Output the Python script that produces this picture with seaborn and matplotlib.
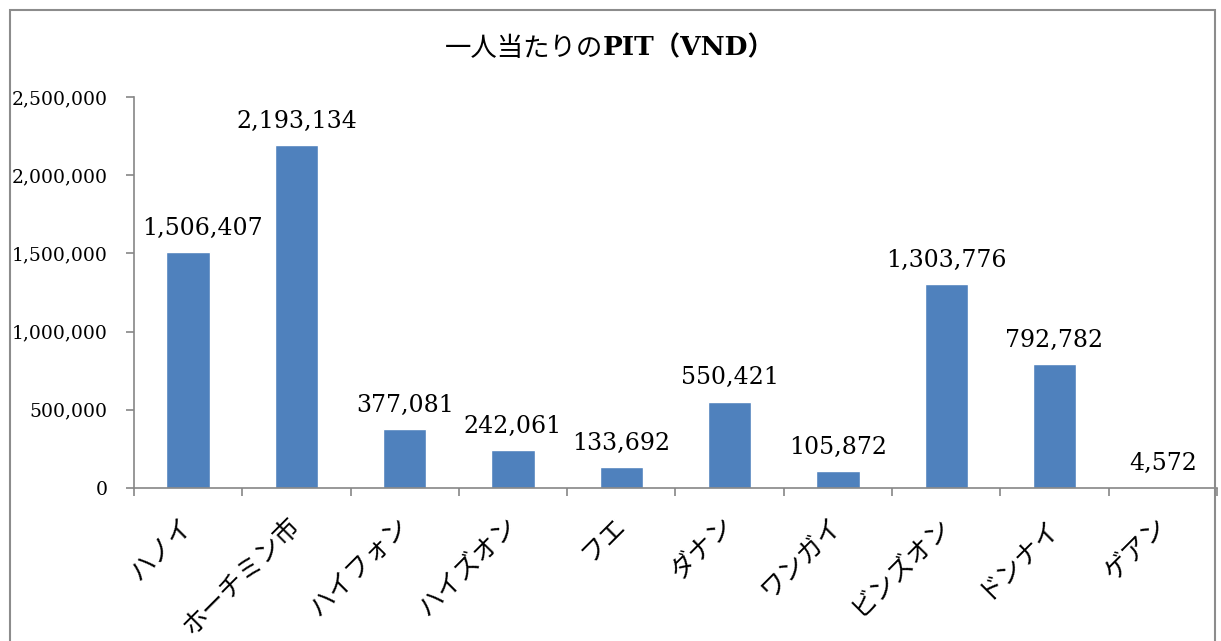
import matplotlib
matplotlib.use("Agg")
import matplotlib.pyplot as plt
import seaborn as sns
import pandas as pd
from matplotlib.patches import Rectangle
from matplotlib.ticker import FuncFormatter

cities = ['ハノイ', 'ホーチミン市', 'ハイフォン', 'ハイズオン', 'フエ', 'ダナン',
          'ワンガイ', 'ビンズオン', 'ドンナイ', 'ゲアン']
pit_per_capita = [1506407, 2193134, 377081, 242061, 133692, 550421,
                  105872, 1303776, 792782, 4572]
y_ticks = [0, 500000, 1000000, 1500000, 2000000, 2500000]

df = pd.DataFrame({'city': cities, 'pit': pit_per_capita})

sns.set_theme(style='white')
plt.rcParams['font.family'] = ['DejaVu Serif', 'Noto Sans CJK JP', 'DejaVu Sans']
plt.rcParams['text.color'] = 'black'
plt.rcParams['xtick.labelcolor'] = 'black'
plt.rcParams['ytick.labelcolor'] = 'black'

fig = plt.figure(figsize=(12.21, 6.41), dpi=100)
ax = fig.add_axes([0.1097, 0.2387, 0.887, 0.61])

sns.barplot(data=df, x='city', y='pit', color='#4F81BD', saturation=1,
            width=0.4, ax=ax)

# 枠線
fig.patches.append(Rectangle((10 / 1221, -0.05), 1205 / 1221, 1.05 - 10 / 641,
                             transform=fig.transFigure, fill=False,
                             edgecolor='#8c8c8c', linewidth=1.5))

ax.set_xlim(-0.5, len(cities) - 0.5)
ax.set_ylim(0, 2500000)
ax.set_yticks(y_ticks)
ax.yaxis.set_major_formatter(FuncFormatter(lambda v, p: f'{v:,.0f}'))
ax.set_xlabel('')
ax.set_ylabel('')

# 目盛り
ax.set_xticks([i - 0.5 for i in range(len(cities) + 1)], minor=True)
ax.tick_params(axis='x', which='major', bottom=True, length=0, pad=24,
               labelsize=18.5, labelcolor='black')
ax.tick_params(axis='x', which='minor', bottom=True, length=6, width=1.2,
               color='#868686', direction='out')
ax.tick_params(axis='y', left=True, length=6, width=1.2, color='#868686',
               direction='out', labelsize=13.5, pad=13, labelcolor='black')
for lab in ax.get_xticklabels():
    lab.set_rotation(45)
    lab.set_ha('right')
    lab.set_rotation_mode('anchor')
    lab.set_va('center')

for s in ['top', 'right']:
    ax.spines[s].set_visible(False)
for s in ['left', 'bottom']:
    ax.spines[s].set_color('#868686')
    ax.spines[s].set_linewidth(1.2)

anns = ax.bar_label(ax.containers[0], labels=[f'{v:,.0f}' for v in pit_per_capita],
                    padding=9, fontsize=17, color='black')
anns[0].xyann = (10, 9)  # 軸と重ならないよう少し右へ

# タイトル（和文は標準、PIT（VND）は太字）
fig.text(0.4939, 0.925, '一人当たりの', ha='right', va='center', color='black',
         fontsize=19, family=['Noto Sans CJK JP'])
fig.text(0.4939, 0.925, 'PIT（VND）', ha='left', va='center', color='black',
         fontsize=19, fontweight='bold',
         family=['DejaVu Serif', 'Noto Sans CJK JP'])

plt.savefig('out.png', dpi=100)
